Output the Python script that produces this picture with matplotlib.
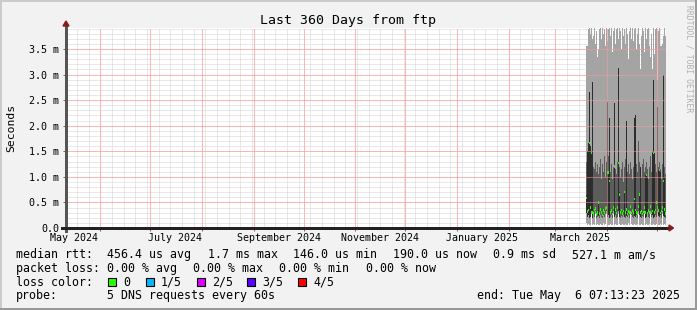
import numpy as np
import pandas as pd
import matplotlib
matplotlib.use("Agg")
import matplotlib.pyplot as plt
import matplotlib.dates as mdates
from matplotlib.patches import Polygon, Rectangle

plt.rcParams["lines.scale_dashes"] = False

nan = np.nan
W, H = 697, 310
MONO = "DejaVu Sans Mono"

# time window of the graph
t_start = pd.Timestamp("2024-05-11 07:13:23")
t_end = pd.Timestamp("2025-05-06 07:13:23")

# smoke columns (one per 864 min), values in ms
bins = pd.date_range("2025-03-19 07:13:23", periods=81, freq="864min")
top = [3.55, 3.55, 3.90, 3.95, 3.80, 3.95, 3.70, 3.75, 3.95, 3.60,
       3.85, 3.35, 3.50, 3.90, 3.95, 3.70, 3.95, 3.80, 3.90, 3.55,
       3.95, 3.65, 3.90, 3.95, 3.75, 3.95, 3.45, 3.85, 3.95, 3.60,
       3.90, 3.95, 3.70, 3.95, 3.85, 3.50, 3.95, 3.75, 3.90, 3.60,
       3.95, 3.80, 3.30, 3.85, 3.95, 3.70, 3.95, 3.65, 3.90, 3.95,
       3.50, 3.80, 3.95, 3.60, 3.10, 3.75, 3.95, 3.85, 3.45, 3.95,
       3.70, 3.90, 3.95, 3.55, 3.35, 3.80, 3.10, 3.95, 3.40, 3.90,
       3.95, 2.90, 3.85, 3.95, 3.55, 3.55, 3.60, 3.75, 3.95, 3.75]
upper = [1.30, 1.35, 1.40, 1.45, 1.30, 1.50, 1.25, 1.20, 1.15, 1.30,
         1.10, 1.25, 1.05, 1.20, 1.35, 0.95, 1.25, 1.10, 1.40, 1.00,
         1.30, 1.45, 1.40, 1.35, 1.10, 1.25, 0.95, 1.20, 1.45, 1.15,
         1.05, 1.30, 1.50, 1.20, 1.00, 1.15, 1.30, 0.90, 1.20, 1.35,
         1.40, 1.10, 1.25, 1.05, 1.30, 1.15, 0.95, 1.20, 1.60, 1.80,
         1.25, 1.10, 1.70, 1.30, 1.15, 1.00, 1.25, 1.35, 1.10, 1.20,
         1.30, 1.15, 0.95, 1.20, 1.40, 1.10, 1.50, 1.55, 1.45, 1.25,
         1.10, 1.35, 1.20, 1.30, 1.15, 0.95, 1.25, 1.40, 1.20, 1.05]
lower = [0.30, 0.22, 0.25, 0.20, 0.22, 0.34, 0.20, 0.25, 0.22, 0.34,
         0.20, 0.22, 0.24, 0.20, 0.26, 0.22, 0.20, 0.25, 0.22, 0.28,
         0.34, 0.22, 0.25, 0.20, 0.22, 0.26, 0.20, 0.34, 0.22, 0.25,
         0.20, 0.22, 0.34, 0.22, 0.20, 0.24, 0.22, 0.26, 0.22, 0.20,
         0.24, 0.22, 0.25, 0.20, 0.34, 0.26, 0.22, 0.20, 0.24, 0.22,
         0.25, 0.20, 0.34, 0.26, 0.22, 0.20, 0.24, 0.22, 0.34, 0.20,
         0.22, 0.26, 0.22, 0.20, 0.34, 0.22, 0.25, 0.20, 0.22, 0.26,
         0.22, 0.34, 0.24, 0.22, 0.25, 0.20, 0.34, 0.24, 0.22, 0.20]
bottom = [0.10, 0.05, 0.08, 0.05, 0.06, 0.28, 0.05, 0.08, 0.06, 0.28,
          0.05, 0.08, 0.06, 0.05, 0.08, 0.06, 0.05, 0.10, 0.06, 0.08,
          0.28, 0.05, 0.06, 0.05, 0.08, 0.06, 0.05, 0.28, 0.06, 0.08,
          0.05, 0.06, 0.28, 0.08, 0.05, 0.06, 0.08, 0.06, 0.05, 0.08,
          0.06, 0.05, 0.10, 0.06, 0.28, 0.08, 0.05, 0.06, 0.08, 0.05,
          0.06, 0.08, 0.28, 0.06, 0.05, 0.08, 0.06, 0.05, 0.28, 0.06,
          0.08, 0.05, 0.06, 0.08, 0.28, 0.05, 0.06, 0.08, 0.05, 0.06,
          0.08, 0.28, 0.05, 0.06, 0.08, 0.05, 0.28, 0.06, 0.08, 0.05]
median = [0.59, 0.32, 0.35, 1.66, 0.40, 1.47, 0.30, 0.28, 0.35, 0.38,
          0.26, 0.30, 0.50, 0.28, 0.36, 0.30, 0.25, 0.34, 0.30, 0.38,
          0.40, 1.08, 1.08, 0.92, 0.30, 0.34, 0.27, 0.40, 1.20, 0.36,
          0.29, 0.40, 1.27, 0.66, 0.30, 0.35, 0.28, 0.33, 0.70, 0.30,
          0.36, 0.27, 0.32, 0.30, 0.42, 0.29, 0.34, 0.30, 0.57, 0.35,
          0.30, 0.28, 0.42, 0.66, 0.30, 0.33, 0.27, 0.31, 0.40, 0.30,
          1.04, 0.28, 0.34, 0.30, 0.42, 0.29, 0.33, 1.47, 0.30, 0.35,
          0.50, 0.40, 0.34, 1.13, 0.29, 0.33, 0.40, 0.92, 0.36, 0.28]
core = [0.65, 1.50, 1.66, 2.66, 1.60, 1.47, 2.85, nan, nan, nan,
        nan, nan, 0.50, nan, nan, nan, nan, nan, nan, nan,
        nan, 2.47, 1.10, 2.16, nan, nan, nan, nan, 2.44, nan,
        nan, nan, 3.13, 0.70, nan, nan, nan, nan, 0.72, nan,
        2.10, nan, nan, nan, nan, nan, nan, nan, 2.15, 2.20,
        nan, nan, nan, 0.68, 1.20, nan, nan, nan, nan, 1.04,
        1.04, 1.00, nan, nan, nan, nan, 1.47, 2.90, 1.47, nan,
        nan, 2.36, 1.13, 1.13, 1.10, nan, nan, 3.00, 1.00, nan]

y_ticks = [0.0, 0.5, 1.0, 1.5, 2.0, 2.5, 3.0, 3.5]
y_labels = ["0.0", "0.5 m", "1.0 m", "1.5 m", "2.0 m", "2.5 m", "3.0 m", "3.5 m"]
month_labels = ["May 2024", "July 2024", "September 2024",
                "November 2024", "January 2025", "March 2025"]
month_label_starts = pd.to_datetime(["2024-05-01", "2024-07-01", "2024-09-01",
                                     "2024-11-01", "2025-01-01", "2025-03-01"])

loss_names = ["0", "1/5", "2/5", "3/5", "4/5"]
loss_colors = ["#26ff00", "#00b8ff", "#dd00ff", "#5e00ff", "#ff0000"]

stats_rtt = ["median rtt:", "456.4 us avg", "1.7 ms max", "146.0 us min",
             "190.0 us now", "0.9 ms sd", "527.1 m am/s"]
stats_loss = ["packet loss:", "0.00 % avg", "0.00 % max", "0.00 % min", "0.00 % now"]

# ---------------------------------------------------------------
fig = plt.figure(figsize=(W / 100, H / 100), dpi=100, facecolor="#f2f2f2")
ax = fig.add_axes([66 / W, 82 / H, 600 / W, 200 / H])
ax.set_facecolor("white")

xb = mdates.date2num(bins.to_pydatetime())
def ext(v):
    v = np.asarray(v, float)
    return np.append(v, v[-1])

ax.fill_between(xb, ext(bottom), ext(top), step="post", color="#a4a4a4",
                lw=0, antialiased=False, zorder=1)
ax.fill_between(xb, ext(lower), ext(upper), step="post", color="#5c5c5c",
                lw=0, antialiased=False, zorder=1)
core_a = np.asarray(core)
m = ~np.isnan(core_a)
ax.bar(xb[:-1][m], core_a[m] - np.asarray(lower)[m], bottom=np.asarray(lower)[m],
       width=xb[1] - xb[0], align="edge", color="#2c2c2c", lw=0,
       antialiased=False, zorder=1)
med = ext(median)
ax.fill_between(xb, med - 0.025, med + 0.025, step="post", color=loss_colors[0],
                lw=0, antialiased=False, zorder=3)

ax.set_xlim(mdates.date2num(t_start), mdates.date2num(t_end))
ax.set_ylim(0, 3.91)

# grid (below the smoke), major lines repeated on top of it
months = pd.date_range("2024-06-01", "2025-05-01", freq="MS")
weeks = pd.date_range("2024-05-12", "2025-05-06", freq="W-SAT")
mx = mdates.date2num(months.to_pydatetime())
ax.set_xticks(mx)
ax.set_xticks(mdates.date2num(weeks.to_pydatetime()), minor=True)
ax.set_xticklabels([])
ax.set_yticks(y_ticks)
ax.set_yticklabels(y_labels, family=MONO, fontsize=7.2)
ax.set_yticks(np.arange(0.1, 3.91, 0.1), minor=True)
ax.set_axisbelow(True)
dots = (0, (0.72, 0.72))
ax.grid(which="minor", color="#d2d2d2", lw=0.72, ls=dots, snap=True)
ax.grid(which="major", color="#ffa0a0", lw=0.72, ls=dots, snap=True)
ax.vlines(mx, 0, 1, transform=ax.get_xaxis_transform(), colors="#ff9c9c",
          lw=0.72, linestyles=dots, zorder=2)
ax.hlines(y_ticks[1:], 0, 1, transform=ax.get_yaxis_transform(), colors="#ff9c9c",
          lw=0.72, linestyles=dots, zorder=2)
ax.tick_params(which="minor", length=0)
ax.tick_params(axis="y", which="major", length=2.2, width=0.72, color="#666666",
               pad=2.5, labelcolor="black")
ax.tick_params(axis="x", which="major", length=2.2, width=0.72, color="#666666")
for s in ax.spines.values():
    s.set_visible(False)

dx, dy = 1 / 600, 1 / 200
ax.plot([0, 0], [-3 * dy, 1 + 3 * dy], color="#555555", lw=0.9,
        transform=ax.transAxes, clip_on=False, antialiased=False, zorder=5)
ax.plot([-4 * dx, 1 + 4 * dx], [0, 0], color="#222222", lw=0.9,
        transform=ax.transAxes, clip_on=False, antialiased=False, zorder=5)
ax.add_patch(Polygon([(0, 1 + 7 * dy), (-3 * dx, 1 + 2 * dy), (3 * dx, 1 + 2 * dy)],
                     closed=True, color="#8b1a1a", transform=ax.transAxes,
                     clip_on=False, zorder=6))
ax.add_patch(Polygon([(1 + 7.5 * dx, 0), (1 + 3 * dx, 3 * dy), (1 + 3 * dx, -3 * dy)],
                     closed=True, color="#8b1a1a", transform=ax.transAxes,
                     clip_on=False, zorder=6))

for lab, st in zip(month_labels, month_label_starts):
    ax.text(mdates.date2num(st + pd.Timedelta(days=15)), -13 * dy, lab,
            transform=ax.get_xaxis_transform(), ha="center", va="baseline",
            family=MONO, fontsize=7.2)

ax.set_ylabel("Seconds", family=MONO, fontsize=8.2, labelpad=0)
ax.yaxis.set_label_coords(-50 * dx, 0.5)

# texts around the plot
def ftext(x, y, s, **kw):
    kw.setdefault("family", MONO)
    kw.setdefault("fontsize", 8.4)
    kw.setdefault("va", "baseline")
    fig.text(x / W, 1 - y / H, s, **kw)

ftext(348, 24, "Last 360 Days from ftp", ha="center", fontsize=9.5)
ftext(689, 5, "RRDTOOL / TOBI OETIKER", ha="center", va="top", rotation=270,
      fontsize=5.8, color="#b0b0b0")

for s, x in zip(stats_rtt, [16, 107, 207.7, 293.3, 393.3, 493.3, 571.7]):
    ftext(x, 258, s)
for s, x in zip(stats_loss, [16, 107, 193.3, 279.3, 366]):
    ftext(x, 272, s)
ftext(16, 285.5, "loss color:")
for name, col, x in zip(loss_names, loss_colors, [108, 146, 197, 247, 298]):
    fig.add_artist(Rectangle((x / W, 1 - 286 / H), 8 / W, 8 / H, facecolor=col,
                             edgecolor="black", lw=0.8, transform=fig.transFigure))
    ftext(x + 15, 285.5, name)
ftext(16, 299, "probe:")
ftext(107, 299, "5 DNS requests every 60s")
ftext(680, 299, "end: Tue May  6 07:13:23 2025", ha="right")

# 3d frame
fig.add_artist(Rectangle((0, 1 - 2 / H), 1, 2 / H, color="#cbcbcb", lw=0, transform=fig.transFigure))
fig.add_artist(Rectangle((0, 0), 2 / W, 1, color="#cbcbcb", lw=0, transform=fig.transFigure))
fig.add_artist(Rectangle((0, 0), 1, 2 / H, color="#999999", lw=0, transform=fig.transFigure))
fig.add_artist(Rectangle((1 - 2 / W, 0), 2 / W, 1, color="#999999", lw=0, transform=fig.transFigure))

fig.savefig("out.png", dpi=100, facecolor=fig.get_facecolor())
